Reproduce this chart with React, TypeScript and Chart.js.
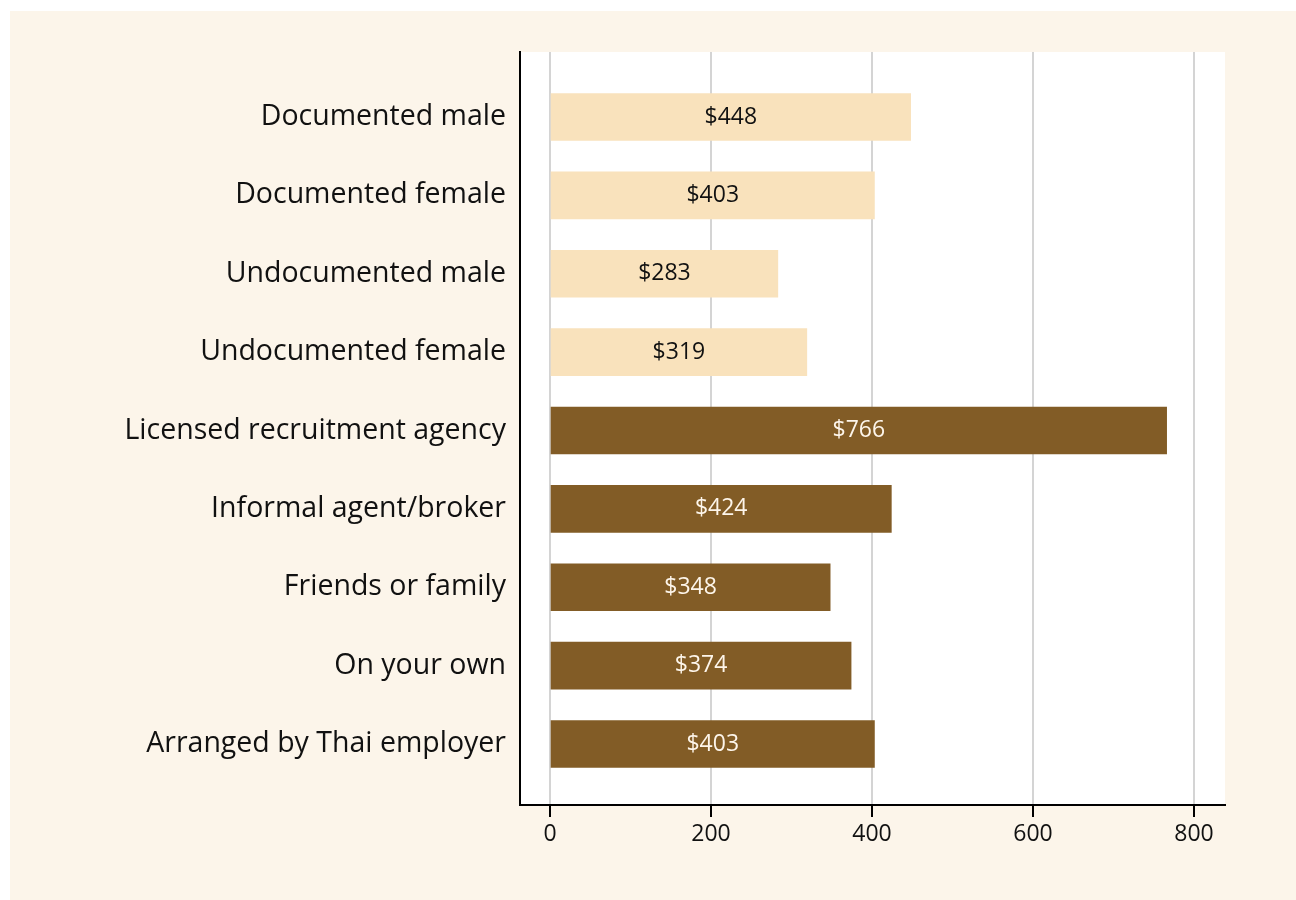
import React, { useEffect, useRef } from "react";
import { Chart, registerables } from "chart.js";

Chart.register(...registerables);

const categories = [
  "Documented male",
  "Documented female",
  "Undocumented male",
  "Undocumented female",
  "Licensed recruitment agency",
  "Informal agent/broker",
  "Friends or family",
  "On your own",
  "Arranged by Thai employer",
];
const values = [448, 403, 283, 319, 766, 424, 348, 374, 403];
const groups = ["light", "light", "light", "light", "dark", "dark", "dark", "dark", "dark"];
const xTicks = [0, 200, 400, 600, 800];

const CREAM = "#fcf5ea";
const LIGHT = "#f9e2bc";
const DARK = "#825c26";
const FONT = "'Open Sans', sans-serif";

const bgPlugin = {
  id: "plotBg",
  beforeDraw(chart: any) {
    const { ctx, chartArea } = chart;
    ctx.save();
    ctx.fillStyle = "#ffffff";
    ctx.fillRect(chartArea.left, chartArea.top, chartArea.right - chartArea.left, chartArea.bottom - chartArea.top);
    ctx.restore();
  },
};

const labelPlugin = {
  id: "barLabels",
  afterDatasetsDraw(chart: any) {
    const { ctx } = chart;
    const meta = chart.getDatasetMeta(0);
    ctx.save();
    ctx.font = `23px ${FONT}`;
    ctx.textAlign = "center";
    ctx.textBaseline = "middle";
    meta.data.forEach((bar: any, i: number) => {
      const { x, y, base } = bar.getProps(["x", "y", "base"], true);
      ctx.fillStyle = groups[i] === "light" ? "#111111" : "#fdf5ea";
      ctx.fillText("$" + values[i], (x + base) / 2, y);
    });
    ctx.restore();
  },
};

export default function App() {
  const ref = useRef<HTMLCanvasElement | null>(null);
  useEffect(() => {
    if (!ref.current) return;
    const chart = new Chart(ref.current, {
      type: "bar",
      data: {
        datasets: [
          {
            data: values.map((v, i) => ({ x: v, y: i })),
            backgroundColor: groups.map((g) => (g === "light" ? LIGHT : DARK)),
            barThickness: 47,
            borderWidth: 0,
          },
        ],
      },
      options: {
        indexAxis: "y",
        responsive: false,
        animation: false,
        layout: { padding: { top: 41, right: 71, left: 0, bottom: 0 } },
        plugins: { legend: { display: false }, tooltip: { enabled: false } },
        scales: {
          x: {
            type: "linear",
            min: -37.3,
            max: 838.5,
            afterBuildTicks: (s: any) => {
              s.ticks = xTicks.map((v) => ({ value: v }));
            },
            afterFit: (s: any) => {
              s.height = 95;
            },
            grid: { color: "#d4d4d4", lineWidth: 2, tickColor: "#000000", tickLength: 12, tickWidth: 2 },
            border: { display: true, color: "#000000", width: 2 },
            ticks: { color: "#111111", font: { family: FONT, size: 23 }, padding: 4, maxRotation: 0 },
          },
          y: {
            type: "linear",
            reverse: true,
            offset: false,
            min: -0.829,
            max: 8.778,
            afterBuildTicks: (s: any) => {
              s.ticks = categories.map((_, i) => ({ value: i }));
            },
            afterFit: (s: any) => {
              s.width = 510;
            },
            grid: { display: true, offset: false, color: "rgba(0,0,0,0)", drawTicks: false },
            border: { display: true, color: "#000000", width: 2 },
            ticks: {
              color: "#111111",
              font: { family: FONT, size: 28.5 },
              padding: 14,
              callback: (v: any) => categories[v as number] ?? "",
            },
          },
        },
      },
      plugins: [bgPlugin, labelPlugin],
    });
    return () => chart.destroy();
  }, []);

  return (
    <div
      style={{
        position: "absolute",
        left: 10,
        top: 11,
        width: 1286,
        height: 889,
        background: CREAM,
      }}
    >
      <canvas ref={ref} width={1286} height={889} style={{ display: "block" }} />
    </div>
  );
}
